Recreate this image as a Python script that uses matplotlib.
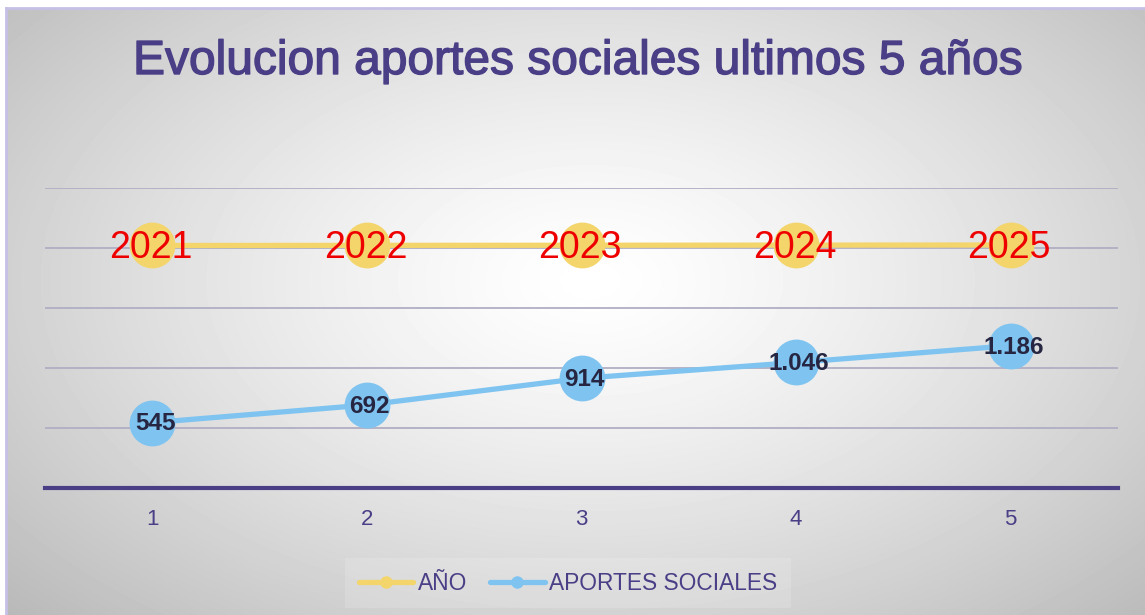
import matplotlib.pyplot as plt
import matplotlib.patheffects as pe
import numpy as np
from matplotlib.lines import Line2D

plt.rcParams['font.family'] = ['Liberation Sans', 'DejaVu Sans']

# Datos
posiciones = [1, 2, 3, 4, 5]
anios = [2021, 2022, 2023, 2024, 2025]
aportes = [545, 692, 914, 1046, 1186]
etiquetas_aportes = ['545', '692', '914', '1.046', '1.186']
titulo = 'Evolucion aportes sociales ultimos 5 años'

morado = '#4a3f86'
amarillo = '#f3d56b'
azul = '#7fc4f0'

W, H = 1145, 615
fig = plt.figure(figsize=(W / 100, H / 100), dpi=100)
fig.patch.set_facecolor('white')

# fondo con degradado radial
bg = fig.add_axes([6 / W, 0, 1 - 6 / W, 1 - 8 / H], zorder=0)
xx, yy = np.meshgrid(np.arange(6, W), np.arange(8, H))
r = np.sqrt(((xx - 590) / 700) ** 2 + ((yy - 280) / 420) ** 2)
g = 1 - 0.23 * np.clip(r, 0, 1.2) ** 1.3
bg.imshow(g, cmap='gray', vmin=0, vmax=1, aspect='auto', interpolation='bilinear')
bg.set_axis_off()

# borde lila arriba y a la izquierda
fig.add_artist(Line2D([6 / W, 6 / W], [0, 1 - 8 / H], color='#c6c0e6', lw=2, transform=fig.transFigure))
fig.add_artist(Line2D([6 / W, 1], [1 - 8 / H, 1 - 8 / H], color='#c6c0e6', lw=2, transform=fig.transFigure))

ax = fig.add_axes([45 / W, 1 - 488 / H, (1118 - 45) / W, 300 / H], zorder=1)
ax.patch.set_alpha(0)
ax.set_xlim(0.5, 5.5)
ax.set_ylim(0, 2500)
ax.set_yticks([500, 1000, 1500, 2000, 2500])
ax.set_yticklabels([])
ax.tick_params(axis='y', length=0)
ax.yaxis.grid(True, color='#b0aec2', lw=1.3)
ax.set_axisbelow(True)
for s in ['top', 'right', 'left']:
    ax.spines[s].set_visible(False)
ax.spines['bottom'].set_color(morado)
ax.spines['bottom'].set_linewidth(3)
ax.set_xticks(posiciones)
ax.set_xticklabels([str(p) for p in posiciones])
ax.tick_params(axis='x', length=0, pad=15, labelsize=16, labelcolor=morado)

ax.plot(posiciones, anios, color=amarillo, lw=3.8, marker='o', ms=33,
        markerfacecolor=amarillo, markeredgewidth=0, solid_capstyle='round', clip_on=False)
ax.plot(posiciones, aportes, color=azul, lw=3.8, marker='o', ms=33,
        markerfacecolor=azul, markeredgewidth=0, solid_capstyle='round', clip_on=False)

for p, a in zip(posiciones, anios):
    ax.annotate(str(a), (p, a), xytext=(-1, -2), textcoords='offset points',
                color='#ee0000', fontsize=27, ha='center', va='center')
for p, v, t in zip(posiciones, aportes, etiquetas_aportes):
    ax.annotate(t, (p, v), xytext=(2, -1), textcoords='offset points',
                color='#262642', fontsize=17.5, fontweight='bold', ha='center', va='center')

fig.text(578 / W, 1 - 74 / H, titulo, color=morado, fontsize=34.5, ha='center', va='baseline',
         path_effects=[pe.withStroke(linewidth=1.0, foreground=morado)])

h1 = Line2D([], [], color=amarillo, lw=3.8, marker='o', ms=9, markeredgewidth=0, solid_capstyle='round')
h2 = Line2D([], [], color=azul, lw=3.8, marker='o', ms=9, markeredgewidth=0, solid_capstyle='round')
leg = fig.legend([h1, h2], ['AÑO', 'APORTES SOCIALES'], loc='center', bbox_to_anchor=(568 / W, 1 - 583 / H),
                 ncol=2, fontsize=16.4, frameon=True, handlelength=2.4, handletextpad=0.2,
                 columnspacing=1.0, borderpad=0.6)
leg.get_frame().set_facecolor('white')
leg.get_frame().set_alpha(0.15)
leg.get_frame().set_edgecolor('none')
leg.get_frame().set_boxstyle('square', pad=0)
for t in leg.get_texts():
    t.set_color(morado)

fig.savefig('out.png', dpi=100)
